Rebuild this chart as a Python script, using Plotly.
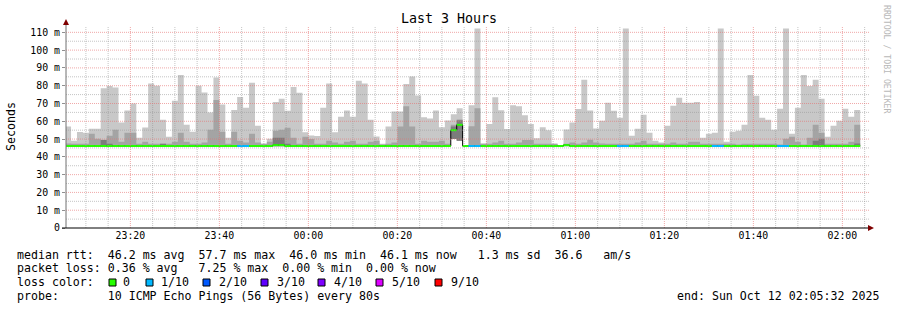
import plotly.graph_objects as go
from datetime import datetime, timedelta

# ---------------- data ----------------
start_time = datetime(2025, 10, 11, 23, 5, 20)
step_seconds = 80

# top of the light smoke (max of pings), ms
smoke_max = [57, 49, 54, 53.6, 55.8, 55.8, 78.5, 79.8, 79, 59.3,
             66, 70, 50.7, 56.5, 81.2, 80, 60.8, 51.3, 71.5, 86,
             58, 54.1, 80, 76.2, 65, 84.6, 69.5, 50.8, 66.4, 73.7,
             67.6, 81.6, 57.5, 47.4, 50.2, 70.9, 72.6, 65.9, 79.3, 76,
             53.8, 52, 51.7, 67.6, 81.2, 53.8, 62.6, 66, 62.6, 82.8,
             81.2, 60.9, 51.4, 47.4, 57, 65.5, 65.5, 81, 85.2, 74.5,
             62.2, 61.6, 66, 56.6, 60.5, 64, 67.3, 46.1, 69, 112.2,
             47.5, 58.4, 73.5, 66.2, 55.6, 69, 68.5, 63.4, 58.4, 50.5,
             56.6, 55, 47.4, 46.5, 55.4, 59.3, 66.9, 83.4, 66, 55.9,
             60.3, 70.4, 65.9, 62, 112.2, 51.9, 55.8, 63.6, 53.6, 49,
             48, 57.5, 68.7, 73.2, 70.4, 70.4, 70.9, 50.7, 53, 53.6,
             112.2, 48.5, 54.1, 54.7, 58, 86, 74.3, 62, 60.8, 55.2,
             67, 112.2, 53, 67.6, 86, 79.9, 83.3, 72.6, 51.3, 57.5,
             60.3, 67, 62.5, 66.4]

# top of the medium smoke, ms
smoke_mid = [47.5, 47.3, 47.3, 47.3, 53, 50.2, 49.6, 51.9, 55.2, 48.5,
             53.6, 53.6, 47.3, 48.5, 47.3, 47.3, 47.3, 47.3, 48.5, 53.6,
             48.5, 47.3, 47.3, 48, 55.2, 72, 54.1, 47.3, 54.1, 49,
             48, 53, 48, 47.3, 48.5, 54.7, 55.2, 56.4, 50.7, 47.3,
             51.3, 50, 47.3, 47.3, 49, 48, 47.3, 48.5, 49, 47.3,
             47.3, 48.5, 49, 47, 47.3, 48, 57, 68.5, 57, 47.3,
             49, 48.5, 48.5, 49, 47.3, 58, 61, 46.1, 57.2, 67.3,
             47.3, 47.3, 48, 49, 47.3, 47.3, 48, 49.5, 49.5, 47.3,
             47.3, 47.3, 47.3, 46.5, 47.3, 48, 47.3, 48, 49.6, 48,
             47.5, 47.3, 47.3, 47.3, 47.3, 47.3, 48, 49, 47.3, 47.3,
             47.3, 47.3, 48, 47.3, 47.3, 48.5, 48.5, 47.3, 47.3, 47.3,
             47.3, 47.3, 47.3, 47, 47.3, 47.3, 47.3, 47.3, 47.3, 47.3,
             47, 50.2, 51.3, 48.5, 47, 50.7, 58, 53.6, 47.3, 47.3,
             47.3, 47.3, 48.5, 58]

# top of the dark smoke, ms
smoke_dark = [46, 46, 46, 46, 46, 46, 49.5, 47.4, 46, 46,
              46, 46, 46, 46, 46, 46, 47.4, 46, 46, 46,
              46, 46, 46, 46, 46, 46, 46, 46, 46, 46,
              46, 46, 46, 46, 46, 50.7, 50.7, 47.4, 46, 46,
              46, 46, 46, 46, 46, 46, 46, 46, 46, 46,
              46, 46, 46, 46, 46, 46, 46, 46, 46, 46,
              46, 46, 46, 46, 46, 57, 60.6, 46, 46, 46,
              46, 46, 46, 46, 46, 46, 46, 46, 46, 46,
              46, 46, 46, 46, 46, 46, 46, 46, 46, 46,
              46, 46, 46, 46, 46, 46, 46, 46, 46, 46,
              46, 46, 46, 46, 46, 46, 46, 46, 46, 46,
              46, 46, 46, 46, 46, 46, 46, 46, 46, 46,
              46, 46, 46, 46, 46, 46, 49, 50.2, 46, 46,
              46, 46, 46, 47.5]

# bottom of the smoke (min ping), ms
smoke_low = [46] * 65 + [50, 49] + [46] * 67

# median rtt, ms
median_rtt = ([46.1] * 35 + [46.6, 46.6] + [46.1] * 28 + [55, 58]
              + [46.1] * 17 + [46.6] + [46.1] * 49)

# lost pings out of 10
loss_count = ([0] * 29 + [1, 1] + [0] * 37 + [1, 1] + [0] * 23 + [1, 1]
              + [0] * 14 + [1, 1] + [0] * 9 + [1, 1] + [0] * 12)

loss_labels = ["0", "1/10", "2/10", "3/10", "4/10", "5/10", "9/10"]
loss_colors = ["#26ff00", "#00b8ff", "#0059ff", "#5e00ff", "#7e00ff", "#dd00ff", "#ff0000"]

y_ticks = [0, 10, 20, 30, 40, 50, 60, 70, 80, 90, 100, 110]
y_ticktext = ["0"] + [f"{v}\u00a0m" for v in y_ticks[1:]]

legend_lines = [
    "median rtt:  46.2 ms avg  57.7 ms max  46.0 ms min  46.1 ms now   1.3 ms sd  36.6   am/s",
    "packet loss: 0.36 % avg   7.25 % max  0.00 % min  0.00 % now",
    "loss color:",
    "probe:       10 ICMP Echo Pings (56 Bytes) every 80s",
]
end_text = "end: Sun Oct 12 02:05:32 2025"

# ---------------- build ----------------
n = len(smoke_max)
starts = [start_time + timedelta(seconds=step_seconds * i) for i in range(n)]
ends = [s + timedelta(seconds=step_seconds) for s in starts]
fmt = lambda d: d.strftime("%Y-%m-%d %H:%M:%S")
step_x = [fmt(s) for s in starts] + [fmt(ends[-1])]

MONO = "DejaVu Sans Mono"
fig = go.Figure()


def smoke(tops, color):
    # bottom edge (invisible) then filled top edge, both as step lines
    fig.add_trace(go.Scatter(x=step_x, y=smoke_low + [smoke_low[-1]], mode="lines",
                             line=dict(shape="hv", width=0, color="rgba(0,0,0,0)"),
                             hoverinfo="skip", showlegend=False))
    tt = [max(t, b) for t, b in zip(tops, smoke_low)]
    fig.add_trace(go.Scatter(x=step_x, y=tt + [tt[-1]], mode="lines",
                             line=dict(shape="hv", width=0, color=color),
                             fill="tonexty", fillcolor=color,
                             hoverinfo="skip", showlegend=False))


smoke(smoke_max, "#c8c8c8")
smoke(smoke_mid, "#a4a4a4")
smoke(smoke_dark, "#7c7c7c")

# black step line of median (shows vertical jumps)
fig.add_trace(go.Scatter(
    x=step_x, y=median_rtt + [median_rtt[-1]],
    mode="lines", line=dict(shape="hv", color="black", width=1),
    hoverinfo="skip", showlegend=False))

# coloured median segments by loss
for k in sorted(set(loss_count)):
    xs, ys = [], []
    for i in range(n):
        if loss_count[i] == k:
            xs += [fmt(starts[i]), fmt(ends[i]), None]
            ys += [median_rtt[i], median_rtt[i], None]
    col = loss_colors[min(k, len(loss_colors) - 1)]
    fig.add_trace(go.Scatter(x=xs, y=ys, mode="lines", line=dict(color=col, width=2),
                             hoverinfo="skip", showlegend=False))

# ---------------- layout helpers ----------------
L, R, T, B = 66, 867, 27, 228
W, H = R - L, B - T


def px(xp):
    return (xp - L) / W


def py(yp):
    return (B - yp) / H


MINOR = "rgba(150,150,150,0.55)"
MAJOR = "rgba(230,110,110,0.6)"
shapes = []
t = datetime(2025, 10, 11, 23, 10)
x_end = datetime(2025, 10, 12, 2, 5, 32)
while t < x_end:
    major = (t.minute % 20 == 0)
    shapes.append(dict(type="line", xref="x", yref="paper", x0=fmt(t), x1=fmt(t), y0=0, y1=1,
                       line=dict(color=MAJOR if major else MINOR, width=1, dash="1px,1px"),
                       layer="above"))
    t += timedelta(minutes=5)
for v in range(5, 115, 5):
    major = (v % 10 == 0)
    shapes.append(dict(type="line", xref="paper", yref="y", x0=0, x1=px(869), y0=v, y1=v,
                       line=dict(color=MAJOR if major else MINOR, width=1, dash="1px,1px"),
                       layer="above"))
# axes
shapes.append(dict(type="line", xref="paper", yref="paper", x0=0, x1=0, y0=py(228), y1=py(22),
                   line=dict(color="#707070", width=1), layer="above"))
shapes.append(dict(type="line", xref="paper", yref="paper", x0=px(62), x1=px(869), y0=0, y1=0,
                   line=dict(color="black", width=1), layer="above"))
# arrows
shapes.append(dict(type="path", xref="paper", yref="paper",
                   path=f"M {px(63)} {py(25)} L {px(69)} {py(25)} L {px(66)} {py(19)} Z",
                   fillcolor="#7f0000", line=dict(width=0), layer="above"))
shapes.append(dict(type="path", xref="paper", yref="paper",
                   path=f"M {px(868)} {py(225)} L {px(868)} {py(231)} L {px(874)} {py(228)} Z",
                   fillcolor="#7f0000", line=dict(width=0), layer="above"))

annotations = []


def ann(text, x, y, xanchor="left", size=11.6, color="black", angle=0):
    annotations.append(dict(text=text, x=px(x), y=py(y), xref="paper", yref="paper",
                            xanchor=xanchor, yanchor="middle", showarrow=False, borderpad=0,
                            textangle=angle, font=dict(family=MONO, size=size, color=color)))


ann("Last\u00a03\u00a0Hours", 448.5, 19, xanchor="center", size=13.3)
ann("Seconds", 11, 127, xanchor="center", angle=-90)
ann("RRDTOOL\u00a0/\u00a0TOBI\u00a0OETIKER", 887, 59, xanchor="center", size=8.2, color="#b8b8b8", angle=90)
rows_y = [254.5, 268, 282, 296]
for txt, yy in zip(legend_lines, rows_y):
    ann(txt.replace(" ", "\u00a0"), 16, yy)
ann(end_text.replace(" ", "\u00a0"), 880, 296, xanchor="right")

sq_x = [109, 146, 203, 261, 318, 376, 435]
lbl_x = [122, 160, 218, 276, 333, 391, 450]
for lab, col, sx, lx in zip(loss_labels, loss_colors, sq_x, lbl_x):
    shapes.append(dict(type="rect", xref="paper", yref="paper", x0=px(sx), x1=px(sx + 7),
                       y0=py(286), y1=py(279), fillcolor=col, line=dict(color="black", width=1)))
    ann(lab, lx, 282)

fig.update_layout(
    width=897, height=310,
    margin=dict(l=L, r=897 - R, t=T, b=310 - B, pad=0),
    paper_bgcolor="white", plot_bgcolor="white",
    showlegend=False,
    shapes=shapes, annotations=annotations,
    xaxis=dict(type="date", range=["2025-10-11 23:05:32", "2025-10-12 02:05:32"],
               showgrid=False, zeroline=False, showline=False, ticks="",
               tickmode="linear", tick0="2025-10-11 23:20:00", dtick=20 * 60 * 1000,
               tickformat="%H:%M", tickfont=dict(family=MONO, size=9.9, color="black")),
    yaxis=dict(range=[0, 113], showgrid=False, zeroline=False, showline=False,
               tickmode="array", tickvals=y_ticks, ticktext=y_ticktext,
               ticks="outside", ticklen=3, tickcolor="#909090",
               tickfont=dict(family=MONO, size=9.9, color="black")),
)

fig.write_html("out.html")
